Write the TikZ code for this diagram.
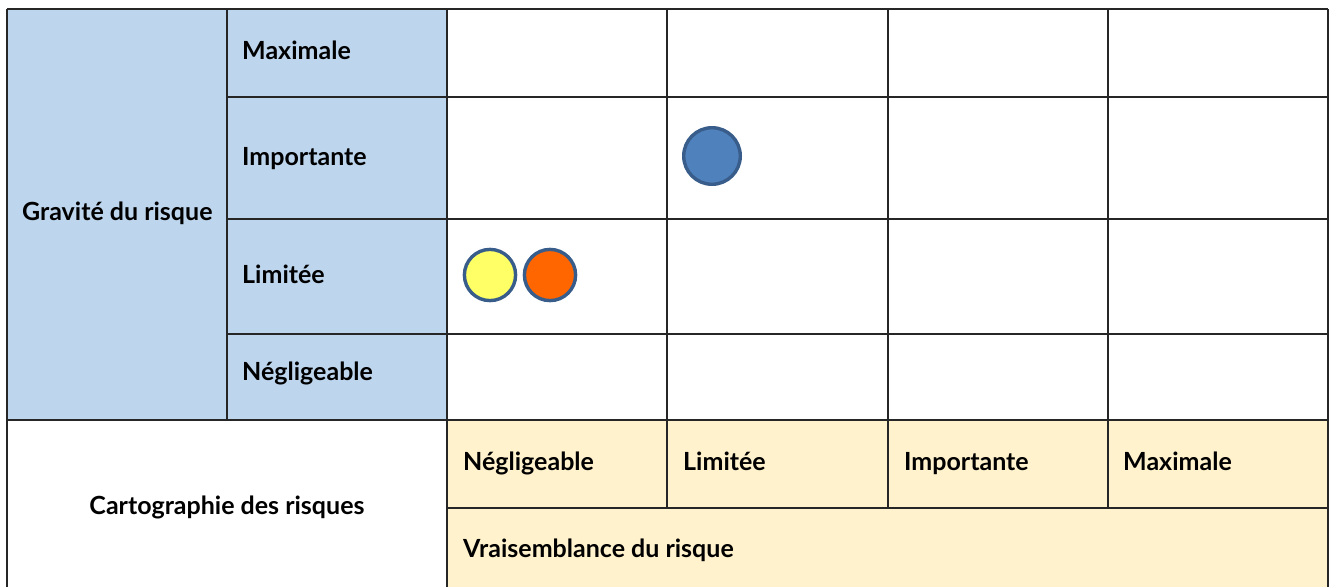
\documentclass[tikz,border=0pt]{standalone}
\usepackage{fontspec}
\setmainfont{Lato}
\begin{document}
\begin{tikzpicture}[x=1pt,y=-1pt,
  lbl/.style={anchor=base west,inner sep=0pt,font=\fontsize{25}{28}\selectfont\bfseries},
  grid/.style={line width=1.2pt,draw=black!85},
  dot/.style={line width=3.4pt,draw=dotborder}]
\definecolor{blueCell}{HTML}{BDD6EE}
\definecolor{yellowCell}{HTML}{FFF2CC}
\definecolor{dotborder}{HTML}{385D8A}
\definecolor{dotblue}{HTML}{4F81BD}
\definecolor{dotyellow}{HTML}{FFFF66}
\definecolor{dotorange}{HTML}{FF6600}
\useasboundingbox (0,0) rectangle (1332,587);
\fill[white] (0,0) rectangle (1332,587);
% fills
\fill[blueCell] (7,9) rectangle (447,420);
\fill[yellowCell] (447,420) rectangle (1328,587);
% grid lines
\draw[grid] (7,9) -- (1328,9);
\foreach \yy in {97,219,334} \draw[grid] (227,\yy) -- (1328,\yy);
\draw[grid] (7,420) -- (1328,420);
\draw[grid] (447,508) -- (1328,508);
\draw[grid] (7,9) -- (7,587);
\draw[grid] (227,9) -- (227,420);
\draw[grid] (447,9) -- (447,587);
\foreach \xx in {667,888,1108} \draw[grid] (\xx,9) -- (\xx,508);
\draw[grid] (1328,9) -- (1328,587);
% texts
\node[lbl] (grav) at (22,220) {Gravité du risque};
\node[lbl] (gmax) at (242,59) {Maximale};
\node[lbl] (gimp) at (242,165) {Importante};
\node[lbl] (glim) at (242,283) {Limitée};
\node[lbl] (gneg) at (242,380) {Négligeable};
\node[lbl,anchor=base] (carto) at (227,514) {Cartographie des risques};
\node[lbl] (vneg) at (463,470) {Négligeable};
\node[lbl] (vlim) at (683,470) {Limitée};
\node[lbl] (vimp) at (904,470) {Importante};
\node[lbl] (vmax) at (1123,470) {Maximale};
\node[lbl] (vrai) at (463,557) {Vraisemblance du risque};
% dots
\draw[dot,fill=dotblue] (712,156) circle (28.3);
\draw[dot,fill=dotyellow] (490,275) circle (25.6);
\draw[dot,fill=dotorange] (550,275) circle (25.6);
\end{tikzpicture}
\end{document}
